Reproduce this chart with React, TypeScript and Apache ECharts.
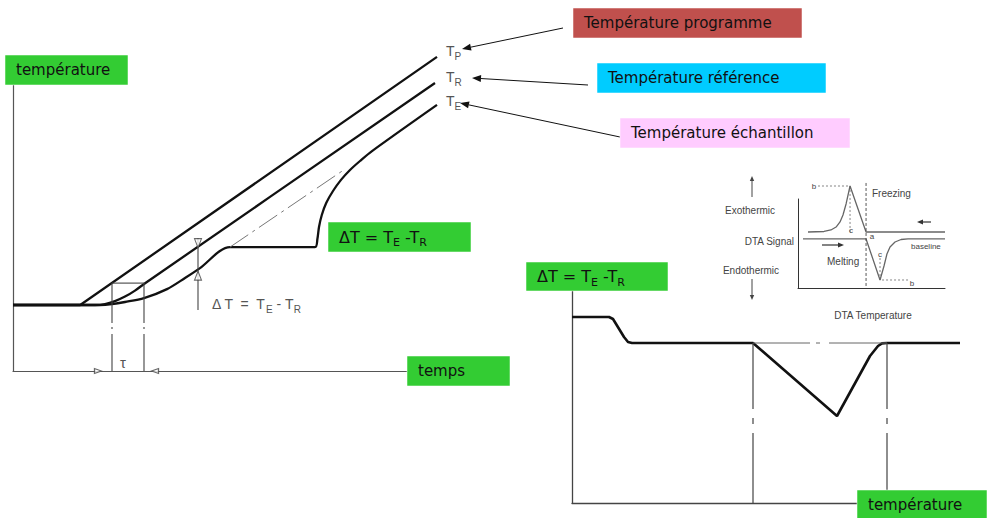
import React, { useEffect, useRef } from "react";
import * as echarts from "echarts";

// ---------- Left diagram: temperature vs time (arbitrary units) ----------
const programmeTemp = [[0, 22], [16.8, 22], [106, 104.7]];
const referenceTemp = [
  [0, 22], [20.5, 22], [23, 22.3], [25.5, 23.3], [28, 24.8], [30.5, 26.8], [32.75, 29], [105.5, 96],
];
const sampleTemp = [
  [0, 22], [21.75, 22], [24.75, 22.3], [28, 23], [32.75, 24.3], [38.5, 27.3], [43, 31], [46.75, 34.3],
  [54.25, 41.3], [75.5, 41.3], [76.1, 44], [76.5, 48], [77.2, 52], [78.3, 56], [80, 60], [82, 63.7],
  [84.25, 67], [86.75, 70], [89.75, 73.3], [106, 88.7],
];
const sampleExtrapolation = [[54.25, 41.3], [83, 67.3]];
const tauTop = [[24.75, 29.3], [32.75, 29.3]];
const tauLeft = [[24.75, 29.3], [24.75, 0]];
const tauRight = [[32.75, 29.3], [32.75, 0]];
const tauMarkIn = [[21.25, 0]];
const tauMarkOut = [[35.5, 0]];
const deltaShaft = [[46.25, 44.3], [46.25, 20.3]];
const deltaHeadTop = [[46.25, 42.6]];
const deltaHeadBottom = [[46.25, 31.8]];

// ---------- Right diagram: ΔT vs temperature ----------
const dtaSignal = [
  [0, 6.5], [9.25, 6.5], [10.25, 6], [13, 1.5], [14, 0.25], [15, 0], [45.25, 0], [66.25, -18.25],
  [74.5, -3.25], [76.5, -0.75], [77.5, -0.1], [78.75, 0], [97, 0],
];
const dtaBaseline = [[45.25, 0], [78.75, 0]];
const onsetLine = [[45.25, 0], [45.25, -40]];
const endsetLine = [[78.75, 0], [78.75, -40]];

// ---------- Inset: DTA signal vs DTA temperature ----------
const freezingCurve = [
  [6.8, 62.9], [17.7, 63.5], [22.4, 65.2], [25.9, 68.5], [28.6, 74.2], [30.6, 82], [32.7, 94.4],
  [35.4, 114.6], [46.3, 62.9], [100, 62.9],
];
const meltingCurve = [
  [3.4, 55.1], [46.3, 55.1], [55.8, 9], [58.5, 24.7], [60.5, 38.2], [62.6, 46.1], [66, 51.7],
  [70.1, 54.5], [74.8, 55.1], [100, 55.1],
];
const peakGuide = [[13.6, 114.6], [35.4, 114.6], [35.4, 62.9]];
const troughGuide = [[55.8, 33.7], [55.8, 9], [76.2, 9]];
const transitionLine = [[46.3, 118], [46.3, 0]];

const BOX_FONT = '"DejaVu Sans", sans-serif';
const SMALL_FONT = '"Liberation Sans", Arial, sans-serif';

function lineSeries(data: number[][], idx: number, style: any, smooth: any = false) {
  return {
    type: "line",
    data,
    xAxisIndex: idx,
    yAxisIndex: idx,
    symbol: "none",
    smooth,
    clip: false,
    silent: true,
    lineStyle: style,
    z: 3,
  };
}

function triSeries(data: number[][], idx: number, rotate: number, size: any) {
  return {
    type: "scatter",
    data,
    xAxisIndex: idx,
    yAxisIndex: idx,
    symbol: "triangle",
    symbolSize: size,
    symbolRotate: rotate,
    clip: false,
    silent: true,
    itemStyle: { color: "#fff", borderColor: "#444", borderWidth: 1.1 },
    z: 4,
  };
}

function axisPair(idx: number, xmin: number, xmax: number, ymin: number, ymax: number, color: string, width: number) {
  const common = {
    gridIndex: idx,
    type: "value",
    axisTick: { show: false },
    axisLabel: { show: false },
    splitLine: { show: false },
  };
  return {
    x: { ...common, min: xmin, max: xmax, axisLine: { show: true, onZero: false, lineStyle: { color, width } } },
    y: { ...common, min: ymin, max: ymax, axisLine: { show: true, onZero: false, lineStyle: { color, width } } },
  };
}

function box(x: number, y: number, w: number, h: number, fill: string, text: string, rich?: any) {
  return [
    { type: "rect", z: 100, shape: { x, y, width: w, height: h }, style: { fill, stroke: "rgba(255,255,255,0.5)", lineWidth: 1 } },
    {
      type: "text",
      z: 101,
      x: x + 11,
      y: y + h / 2,
      style: {
        text,
        fill: "#111",
        fontSize: 15,
        fontFamily: BOX_FONT,
        align: "left",
        verticalAlign: "middle",
        rich,
      },
    },
  ];
}

function arrow(x1: number, y1: number, x2: number, y2: number, color: string, lw: number, len: number, half: number) {
  const a = Math.atan2(y2 - y1, x2 - x1);
  const bx = x2 - len * Math.cos(a);
  const by = y2 - len * Math.sin(a);
  const px = -Math.sin(a) * half;
  const py = Math.cos(a) * half;
  return [
    { type: "line", z: 90, shape: { x1, y1, x2: bx, y2: by }, style: { stroke: color, lineWidth: lw } },
    {
      type: "polygon",
      z: 90,
      shape: { points: [[x2, y2], [bx + px, by + py], [bx - px, by - py]] },
      style: { fill: color },
    },
  ];
}

function txt(x: number, y: number, text: string, size: number, color: string, align = "left", font = SMALL_FONT, rich?: any) {
  return {
    type: "text",
    z: 95,
    x,
    y,
    style: { text, fill: color, fontSize: size, fontFamily: font, align, verticalAlign: "middle", rich },
  };
}

const deltaRich = {
  n: { fontSize: 16, fontFamily: BOX_FONT, fill: "#111", lineHeight: 22 },
  s: { fontSize: 11, fontFamily: BOX_FONT, fill: "#111", lineHeight: 11, verticalAlign: "bottom" },
};
const deltaText = "{n|ΔT = T}{s|E}{n| -T}{s|R}";

const greyRich = (size: number) => ({
  n: { fontSize: size, fontFamily: SMALL_FONT, fill: "#555", lineHeight: size + 6 },
  s: { fontSize: size - 4, fontFamily: SMALL_FONT, fill: "#555", lineHeight: size - 4, verticalAlign: "bottom" },
});

export default function App() {
  const ref = useRef<HTMLDivElement>(null);
  useEffect(() => {
    document.body.style.margin = "0";
    if (!ref.current) return;
    const chart = echarts.init(ref.current, undefined, { renderer: "svg" });

    const left = axisPair(0, 0, 107, 0, 105, "#555", 1.2);
    const right = axisPair(1, 0, 100, -40, 13, "#444", 1.3);
    const inset = axisPair(2, 0, 100, 0, 100, "#333", 1);

    const blackThick = { color: "#111", width: 2.3 };

    const graphic: any[] = [
      ...box(5, 55, 123, 30, "#33cc33", "température"),
      ...box(328, 222, 143, 30, "#33cc33", deltaText, deltaRich),
      ...box(407, 356, 103, 30, "#33cc33", "temps"),
      ...box(573, 8, 229, 30, "#c0504d", "Température programme"),
      ...box(597, 63, 229, 30, "#00ccff", "Température référence"),
      ...box(620, 118, 230, 30, "#ffccff", "Température échantillon"),
      ...box(526, 262, 142, 29, "#33cc33", deltaText, deltaRich),
      ...box(857, 490, 130, 30, "#33cc33", "température"),
      ...arrow(563, 28, 462, 49, "#111", 1, 9, 3.5),
      ...arrow(588, 85, 472, 78, "#111", 1, 9, 3.5),
      ...arrow(620, 137, 460, 103, "#111", 1, 9, 3.5),
      txt(446, 51, "{n|T}{s|P}", 14, "#555", "left", SMALL_FONT, greyRich(14)),
      txt(446, 77, "{n|T}{s|R}", 14, "#555", "left", SMALL_FONT, greyRich(14)),
      txt(446, 101, "{n|T}{s|E}", 14, "#555", "left", SMALL_FONT, greyRich(14)),
      txt(212, 304, "{n|Δ T  =  T}{s|E}{n| - T}{s|R}", 14, "#555", "left", SMALL_FONT, greyRich(14)),
      txt(120, 362, "τ", 15, "#555"),
      // inset labels
      txt(750, 210, "Exothermic", 10, "#444", "center"),
      txt(751, 270, "Endothermic", 10, "#444", "center"),
      txt(794, 241, "DTA Signal", 10, "#444", "right"),
      txt(873, 315, "DTA Temperature", 10, "#444", "center"),
      txt(872, 193, "Freezing", 10, "#444"),
      txt(827, 261, "Melting", 10, "#444"),
      txt(911, 246, "baseline", 8, "#444"),
      txt(814, 186, "b", 8, "#444", "center"),
      txt(851, 230, "c", 8, "#444", "center"),
      txt(872, 236, "a", 8, "#444", "center"),
      txt(880, 254, "c", 8, "#444", "center"),
      txt(912, 283, "b", 8, "#444", "center"),
      ...arrow(752, 197, 752, 176, "#444", 1, 5, 2.2),
      ...arrow(752, 279, 752, 300, "#444", 1, 5, 2.2),
      ...arrow(822, 245, 844, 245, "#333", 1.2, 6, 2.5),
      ...arrow(931, 222, 917, 222, "#333", 1.2, 6, 2.5),
    ];

    chart.setOption({
      animation: false,
      backgroundColor: "#fff",
      grid: [
        { left: 13, top: 56, width: 428, height: 315 },
        { left: 572, top: 291, width: 400, height: 212 },
        { left: 798, top: 199, width: 147, height: 89 },
      ],
      xAxis: [left.x, right.x, inset.x],
      yAxis: [left.y, right.y, inset.y],
      series: [
        // left
        lineSeries(programmeTemp, 0, blackThick),
        lineSeries(referenceTemp, 0, blackThick, 0.3),
        lineSeries(sampleTemp, 0, blackThick, 0.3),
        lineSeries(sampleExtrapolation, 0, { color: "#777", width: 1, type: [22, 5, 3, 5] }),
        lineSeries(tauTop, 0, { color: "#444", width: 1.1 }),
        lineSeries(tauLeft, 0, { color: "#444", width: 1.1, type: [40, 4, 2, 5, 200] }),
        lineSeries(tauRight, 0, { color: "#444", width: 1.1, type: [40, 4, 2, 5, 200] }),
        lineSeries(deltaShaft, 0, { color: "#444", width: 1.1 }),
        triSeries(deltaHeadTop, 0, 180, [7, 9]),
        triSeries(deltaHeadBottom, 0, 0, [7, 9]),
        triSeries(tauMarkIn, 0, -90, [5, 7]),
        triSeries(tauMarkOut, 0, 90, [5, 7]),
        // right
        lineSeries(dtaSignal, 1, { color: "#111", width: 2.6 }),
        lineSeries(dtaBaseline, 1, { color: "#666", width: 1, type: [57, 6, 4, 9, 200] }),
        lineSeries(onsetLine, 1, { color: "#444", width: 1.2, type: [66, 9, 6, 9, 200] }),
        lineSeries(endsetLine, 1, { color: "#444", width: 1.2, type: [66, 9, 6, 9, 200] }),
        // inset
        lineSeries(freezingCurve, 2, { color: "#666", width: 1.3 }),
        lineSeries(meltingCurve, 2, { color: "#666", width: 1.3 }),
        lineSeries(peakGuide, 2, { color: "#666", width: 0.8, type: [2, 2] }),
        lineSeries(troughGuide, 2, { color: "#666", width: 0.8, type: [2, 2] }),
        lineSeries(transitionLine, 2, { color: "#444", width: 0.9, type: [3, 2] }),
      ],
      graphic,
    });
    return () => chart.dispose();
  }, []);
  return <div ref={ref} style={{ width: 989, height: 518 }} />;
}
